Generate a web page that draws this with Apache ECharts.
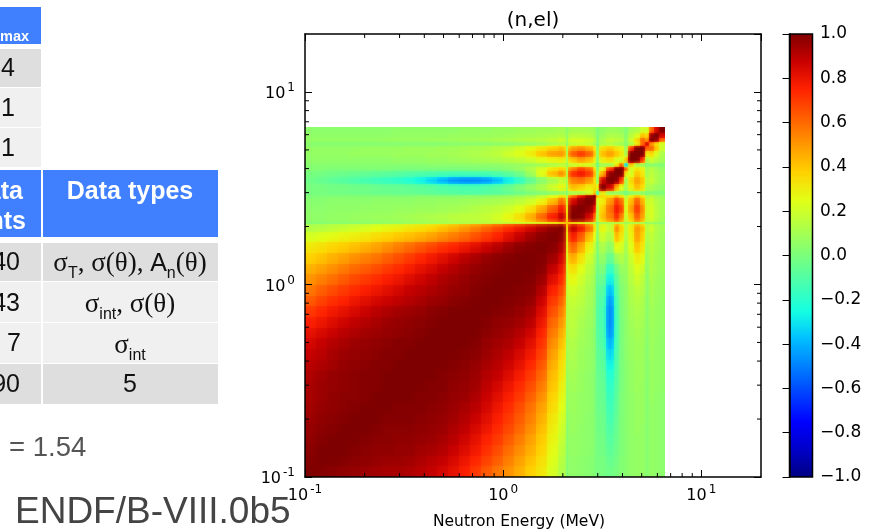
<!DOCTYPE html>
<html><head><meta charset="utf-8">
<style>html,body{margin:0;padding:0;background:#fff}#c{width:871px;height:532px}</style>
<script src="https://cdn.jsdelivr.net/npm/echarts@6/dist/echarts.min.js"></script>
</head><body><div id="c"></div>
<script>
// Energy-group edges (MeV) of the covariance matrix
const energyEdges = [.1,.1136,.1291,.1466,.1666,.1893,.215,.2443,.2775,.3153,.3582,.407,.4624,.5253,.5968,.678,.7703,.8751,.9942,1.13,1.283,1.458,1.656,1.882,2.065,2.113,2.346,2.574,2.824,2.924,3.062,3.322,3.604,3.863,4.094,4.288,4.597,4.929,5.223,5.47,5.796,6.142,6.55];
// Lower triangle of the symmetric correlation matrix
const corrLower = [
[1],
[.99,1],
[.98,1,1],
[.97,.99,1,1],
[.96,.98,.99,1,1],
[.95,.97,.98,.99,1,1],
[.94,.96,.97,.98,.99,1,1],
[.93,.95,.97,.98,.98,.99,1,1],
[.93,.95,.96,.97,.98,.99,.99,1,1],
[.92,.94,.96,.97,.98,.99,.99,1,1,1],
[.9,.92,.94,.96,.97,.98,.99,.99,1,1,1],
[.88,.9,.93,.95,.96,.97,.98,.99,.99,1,1,1],
[.85,.88,.91,.93,.95,.96,.97,.98,.99,.99,1,1,1],
[.81,.84,.87,.9,.92,.94,.95,.96,.97,.98,.99,1,1,1],
[.76,.79,.83,.86,.89,.91,.93,.95,.96,.97,.98,.99,1,1,1],
[.7,.74,.78,.81,.84,.87,.9,.92,.94,.95,.96,.98,.99,1,1,1],
[.63,.68,.72,.75,.79,.82,.85,.87,.89,.91,.93,.95,.96,.98,.99,1,1],
[.57,.62,.66,.7,.73,.76,.79,.82,.85,.88,.9,.92,.94,.96,.97,.99,1,1],
[.51,.55,.59,.63,.67,.7,.73,.76,.79,.83,.86,.89,.92,.94,.96,.98,.99,1,1],
[.45,.48,.52,.56,.6,.63,.66,.7,.73,.77,.81,.84,.88,.91,.94,.96,.98,.99,1,1],
[.38,.41,.45,.48,.52,.55,.58,.62,.66,.7,.74,.78,.82,.86,.9,.93,.96,.98,.99,1,1],
[.32,.34,.37,.39,.42,.45,.48,.52,.56,.6,.64,.68,.72,.75,.79,.83,.87,.91,.95,.98,.99,1],
[.22,.24,.26,.28,.3,.32,.35,.37,.4,.42,.45,.48,.52,.56,.6,.65,.7,.75,.82,.88,.94,.98,1],
[.13,.14,.16,.18,.2,.22,.25,.27,.29,.32,.34,.37,.41,.45,.5,.55,.61,.67,.73,.79,.85,.92,.97,1],
[.02,.02,.03,.03,.03,.04,.04,.05,.05,.06,.07,.08,.09,.1,.11,.12,.13,.15,.16,.18,.2,.22,.25,.3,.45],
[.05,.05,.06,.06,.07,.07,.08,.08,.09,.1,.11,.12,.13,.15,.16,.16,.18,.21,.27,.34,.45,.6,.76,.88,.3,1],
[.04,.04,.05,.05,.05,.06,.06,.06,.07,.07,.08,.08,.09,.1,.11,.13,.15,.17,.2,.25,.33,.46,.62,.78,.25,.98,1],
[.03,.03,.04,.04,.04,.04,.05,.05,.05,.05,.06,.06,.07,.07,.08,.09,.1,.11,.13,.16,.2,.28,.42,.6,.18,.85,.96,1],
[.01,.01,.02,.02,.02,.02,.02,.02,.02,.02,.03,.03,.03,.03,.04,.04,.05,.06,.07,.09,.12,.17,.25,.35,.1,.6,.8,.95,1],
[-.01,-.01,-.02,-.02,-.03,-.03,-.04,-.04,-.05,-.05,-.06,-.07,-.08,-.09,-.1,-.1,-.09,-.08,-.06,-.03,0,.02,.04,.06,.03,.1,.12,.2,.4,-.15],
[-.01,-.01,-.02,-.02,-.03,-.03,-.04,-.05,-.05,-.06,-.07,-.08,-.1,-.11,-.12,-.12,-.1,-.08,-.04,.01,.06,.12,.2,.28,.08,.42,.38,.3,.35,.3,1],
[-.03,-.05,-.07,-.09,-.11,-.13,-.15,-.17,-.19,-.22,-.27,-.33,-.4,-.46,-.48,-.48,-.45,-.38,-.28,-.18,-.06,.04,.12,.18,.1,.55,.58,.5,.35,.05,.85,1],
[-.01,-.02,-.03,-.04,-.05,-.06,-.07,-.08,-.09,-.1,-.11,-.12,-.13,-.14,-.14,-.14,-.13,-.11,-.08,-.03,.08,.25,.42,.52,.12,.72,.78,.7,.45,.05,.45,.97,1],
[.02,.02,.01,.01,.01,.01,.01,.01,0,0,0,0,0,0,0,.01,.01,.02,.04,.07,.13,.22,.32,.38,.1,.55,.68,.6,.35,.03,.25,.7,1,1],
[.03,.03,.03,.03,.03,.03,.03,.03,.03,.03,.03,.04,.04,.04,.04,.04,.05,.05,.06,.07,.08,.1,.12,.15,.08,.18,.22,.2,.14,-.02,.1,.08,.3,.6,-.35],
[.05,.05,.05,.05,.05,.05,.05,.05,.06,.06,.06,.07,.07,.08,.09,.1,.11,.12,.14,.16,.19,.24,.28,.3,.1,.4,.48,.42,.3,.03,.3,.35,.22,.2,.4,1],
[.06,.06,.06,.06,.07,.07,.07,.07,.08,.08,.08,.09,.09,.1,.11,.12,.14,.16,.2,.24,.3,.4,.48,.5,.1,.62,.7,.62,.42,.04,.42,.48,.4,.32,.1,1,1],
[.06,.06,.06,.06,.06,.07,.07,.07,.07,.08,.08,.08,.09,.09,.1,.11,.12,.14,.16,.2,.26,.32,.38,.42,.08,.48,.52,.45,.33,.03,.35,.4,.32,.28,.08,.7,1,1],
[.03,.03,.03,.03,.03,.03,.03,.03,.03,.03,.03,.03,.03,.04,.04,.04,.04,.05,.05,.06,.07,.09,.12,.15,.05,.18,.2,.18,.12,.01,.12,.14,.1,.1,.03,.12,.3,.6,.85],
[.06,.06,.06,.06,.06,.06,.06,.07,.07,.07,.07,.08,.08,.08,.09,.09,.1,.11,.12,.13,.14,.15,.17,.2,.06,.22,.22,.2,.16,.02,.12,.18,.16,.15,.04,.2,.35,.6,.5,1],
[.05,.05,.05,.05,.05,.05,.05,.05,.06,.06,.06,.06,.06,.07,.07,.07,.08,.08,.09,.1,.1,.11,.12,.13,.05,.15,.15,.14,.1,.01,.08,.12,.12,.1,.03,.15,.22,.4,.35,.95,1],
[.04,.04,.04,.04,.04,.04,.04,.04,.05,.05,.05,.05,.05,.05,.06,.06,.06,.07,.07,.08,.08,.09,.09,.1,.04,.1,.1,.1,.08,.01,.06,.08,.08,.07,.02,.1,.12,.2,.2,.6,.85,1]
];
const minorTicks = [.2,.3,.4,.5,.6,.7,.8,.9,2,3,4,5,6,7,8,9];
const jetColors = ['#00007f','#0000c8','#0000ff','#0040ff','#007fff','#00bfff','#15ffe2','#48ffaf','#7bff7b','#afff48','#e2ff15','#ffd200','#ff9700','#ff5c00','#ff2100','#c80000','#7f0000'];
// Table fragment at the left of the slide
const tableBlue = '#4080ff', tableDark = '#dedede', tableLight = '#f0f0f0';
const upperRowsText = ['4','1','1'];
const lowerColA = ['40','43','7','90'];

const cells = [];
corrLower.forEach((row,i)=>row.forEach((v,j)=>{
  cells.push([energyEdges[j],energyEdges[j+1],energyEdges[i],energyEdges[i+1],v,i,j]);
  if(i!==j) cells.push([energyEdges[i],energyEdges[i+1],energyEdges[j],energyEdges[j+1],v,j,i]);
}));
const M=(i,j,d)=>{const a=Math.max(i,j),b=Math.min(i,j);return (corrLower[a]&&corrLower[a][b]!==undefined&&b>=0)?corrLower[a][b]:d;};
const jetRGB=jetColors.map(h=>[1,3,5].map(k=>parseInt(h.substr(k,2),16)));
const jet=v=>{
  const t=Math.min(15.9999,Math.max(0,(v+1)/2*16)),k=Math.floor(t),f=t-k;
  const c=jetRGB[k].map((q,n)=>Math.round(q+(jetRGB[k+1][n]-q)*f));
  return 'rgb('+c.join(',')+')';
};
// Cells are shaded toward their neighbours, as the image in the reference is
const shaded=horizontal=>(p,api)=>{
  const a=api.coord([api.value(0),api.value(2)]),b=api.coord([api.value(1),api.value(3)]);
  const x=Math.round(a[0]),x1=Math.round(b[0]),y=Math.round(b[1]),y1=Math.round(a[1]);
  const v=api.value(4),i=api.value(5),j=api.value(6);
  const lo=horizontal?M(i,j-1,v):M(i-1,j,v),hi=horizontal?M(i,j+1,v):M(i+1,j,v);
  const stops=[{offset:0,color:jet((lo+v)/2)},{offset:.5,color:jet(v)},{offset:1,color:jet((hi+v)/2)}];
  const fill=horizontal?new echarts.graphic.LinearGradient(0,0,1,0,stops):new echarts.graphic.LinearGradient(0,1,0,0,stops);
  return {type:'rect',shape:{x,y,width:x1-x,height:y1-y},style:{fill,opacity:horizontal?1:.5}};
};

const DV = 'DejaVu Sans', AR = 'Liberation Sans', TI = 'Liberation Serif';
const supLabel = v=>{
  const e = Math.log10(v), r = Math.round(e);
  if(Math.abs(e-r)>1e-6) return '';
  return '{b|10}{s|'+r+'}';
};
const supRich = {b:{fontFamily:DV,fontSize:16,color:'#000',padding:[4,0,0,0]},s:{fontFamily:DV,fontSize:12,color:'#000',verticalAlign:'top',padding:[0,0,6,2]}};
const logAxis = (pos,label,margin)=>({type:'log',logBase:10,min:.1,max:20,position:pos,gridIndex:0,z:5,
  axisLine:{show:true,onZero:false,lineStyle:{color:'#000',width:1.5}},
  axisTick:{show:true,inside:true,length:7,lineStyle:{color:'#000',width:1}},
  minorTick:{show:false},splitLine:{show:false},minorSplitLine:{show:false},
  axisLabel:label?{show:true,formatter:supLabel,rich:supRich,margin:margin,showMinLabel:true,showMaxLabel:false}:{show:false}});

const rect=(x,y,w,h,fill)=>({type:'rect',shape:{x,y,width:w,height:h},style:{fill},silent:true});
const txt=(x,y,text,size,fill,align,weight,family,rich)=>({type:'text',x,y,z:10,silent:true,style:{text,fill,fontSize:size,fontFamily:family||AR,fontWeight:weight||'normal',align:align||'center',verticalAlign:'middle',rich}});
const sig={a:{fontFamily:TI,fontSize:27,color:'#111'},sub:{fontFamily:AR,fontSize:16,color:'#111',verticalAlign:'bottom',padding:[20,0,0,0]},ar:{fontFamily:AR,fontSize:25,color:'#111'}};
const table=[
 rect(0,7,41,37,tableBlue),
 rect(0,49,41,38,tableDark),rect(0,88,41,39,tableLight),rect(0,128,41,39,tableLight),
 rect(0,170,41,67,tableBlue),rect(43,170,175,67,tableBlue),
 rect(0,243,41,38,tableDark),rect(43,243,175,38,tableDark),
 rect(0,282,41,40,tableLight),rect(43,282,175,40,tableLight),
 rect(0,323,41,40,tableLight),rect(43,323,175,40,tableLight),
 rect(0,364,41,40,tableDark),rect(43,364,175,40,tableDark),
 txt(0,37,'max',14.5,'#fff','left','bold'),
 txt(8,69,upperRowsText[0],25,'#111'),txt(8,109,upperRowsText[1],25,'#111'),txt(8,149,upperRowsText[2],25,'#111'),
 txt(23,192,'Data',25,'#fff','right','bold'),txt(26,222,'points',25,'#fff','right','bold'),
 txt(130,192,'Data types',25,'#fff','center','bold'),
 txt(20,263,lowerColA[0],25,'#111','right'),txt(20,304,lowerColA[1],25,'#111','right'),txt(14,344,lowerColA[2],25,'#111'),txt(20,385,lowerColA[3],25,'#111','right'),
 txt(130,264,'{a|σ}{sub|T}{a|, σ(θ), }{ar|A}{sub|n}{a|(θ)}',24,'#111','center',null,TI,sig),
 txt(130,305,'{a|σ}{sub|int}{a|, σ(θ)}',24,'#111','center',null,TI,sig),
 txt(130,346,'{a|σ}{sub|int}',24,'#111','center',null,TI,sig),
 txt(130,385,'5',25,'#111'),
 txt(9,448,'= 1.54',27.5,'#555','left'),
 txt(15,513,'ENDF/B-VIII.0b5',37,'#444','left')
];

const option={
 animation:false,backgroundColor:'#fff',
 title:{text:'(n,el)',left:528,top:6,textAlign:'center',textStyle:{fontFamily:DV,fontSize:20,fontWeight:'normal',color:'#000'}},
 grid:[{left:305,top:34,width:456,height:443,containLabel:false,outerBoundsMode:'none'},{left:789.5,top:34,width:23,height:443,outerBoundsMode:'none'}],
 xAxis:[
  Object.assign(logAxis('bottom',true,7),{name:'Neutron Energy (MeV)',nameLocation:'middle',nameGap:37,nameTextStyle:{fontFamily:DV,fontSize:15.5,color:'#000',padding:[0,28,0,0]}}),
  logAxis('top',false),
  {type:'value',gridIndex:1,min:0,max:1,show:false}
 ],
 yAxis:[
  logAxis('left',true,10),
  logAxis('right',false),
  {type:'value',gridIndex:1,min:-1,max:1,interval:.2,position:'right',z:5,
   axisLine:{show:true,lineStyle:{color:'#000',width:1.5}},
   axisTick:{show:true,inside:true,length:7,lineStyle:{color:'#000',width:1}},splitLine:{show:false},
   axisLabel:{margin:7.5,fontFamily:DV,fontSize:17,color:'#000',formatter:v=>v.toFixed(1).replace('-','\u2212')}}
 ],
 graphic:{elements:table},
 series:[
  {type:'custom',xAxisIndex:0,yAxisIndex:0,z:2,silent:true,clip:false,
   encode:{x:[0,1],y:[2,3]},data:cells,renderItem:shaded(true)},
  {type:'custom',xAxisIndex:0,yAxisIndex:0,z:3,silent:true,clip:false,
   encode:{x:[0,1],y:[2,3]},data:cells,renderItem:shaded(false)},
  {type:'custom',xAxisIndex:0,yAxisIndex:0,z:6,silent:true,clip:false,
   encode:{x:0,y:1},data:minorTicks.map(v=>[v,v]),
   renderItem:(p,api)=>{
     const c=api.coord([api.value(0),api.value(1)]),s=p.coordSys,L=4,st={stroke:'#000',lineWidth:1};
     const l=(x1,y1,x2,y2)=>({type:'line',shape:{x1,y1,x2,y2},style:st});
     const B=s.y+s.height,R=s.x+s.width;
     return {type:'group',children:[l(c[0],B,c[0],B-L),l(c[0],s.y,c[0],s.y+L),l(s.x,c[1],s.x+L,c[1]),l(R,c[1],R-L,c[1])]};
   }},
  {type:'custom',xAxisIndex:2,yAxisIndex:2,z:2,silent:true,clip:false,
   encode:{x:0,y:1},data:[[0,-1,1,1]],
   renderItem:(p,api)=>{
     const a=api.coord([api.value(0),api.value(1)]),b=api.coord([api.value(2),api.value(3)]);
     const stops=jetColors.map((color,i)=>({offset:i/(jetColors.length-1),color}));
     return {type:'rect',shape:{x:a[0],y:b[1],width:b[0]-a[0],height:a[1]-b[1]},
       style:{fill:new echarts.graphic.LinearGradient(0,1,0,0,stops),stroke:'#000',lineWidth:1.5}};
   }}
 ]
};
echarts.init(document.getElementById('c')).setOption(option);
</script></body></html>
